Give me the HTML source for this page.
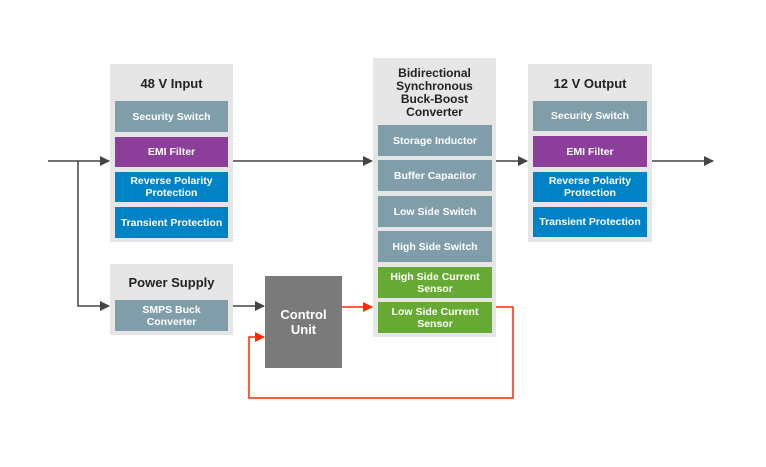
<!DOCTYPE html>
<html><head><style>
body{margin:0;width:766px;height:467px;background:#fff;font-family:"Liberation Sans",Arial,sans-serif;position:relative;overflow:hidden}
.p{position:absolute;background:#e6e6e6}
.t{position:absolute;font-weight:bold;color:#222;font-size:13px;text-align:center;line-height:14px}
.b{position:absolute;color:#fff;font-weight:bold;font-size:10.5px;text-align:center;display:flex;align-items:center;justify-content:center;line-height:12px}
.g{background:#7f9ea9}.m{background:#8b3f9b}.u{background:#0083c6}.n{background:#66aa33}
</style></head><body>
<div class="p" style="left:110px;top:64px;width:123px;height:178px"></div>
<div class="t" style="left:110px;top:77px;width:123px">48 V Input</div>
<div class="b g" style="left:115px;top:101px;width:113px;height:31px">Security Switch</div>
<div class="b m" style="left:115px;top:137px;width:113px;height:30px">EMI Filter</div>
<div class="b u" style="left:115px;top:172px;width:113px;height:30px">Reverse Polarity<br>Protection</div>
<div class="b u" style="left:115px;top:207px;width:113px;height:31px">Transient Protection</div>

<div class="p" style="left:110px;top:264px;width:123px;height:71px"></div>
<div class="t" style="left:110px;top:276px;width:123px">Power Supply</div>
<div class="b g" style="left:115px;top:300px;width:113px;height:31px">SMPS Buck<br>Converter</div>

<div class="b" style="left:265px;top:276px;width:77px;height:92px;background:#7a7a7a;font-size:13px;line-height:15px">Control<br>Unit</div>

<div class="p" style="left:373px;top:58px;width:123px;height:279px"></div>
<div class="t" style="left:373px;top:67px;width:123px;font-size:12px;line-height:13px">Bidirectional<br>Synchronous<br>Buck-Boost<br>Converter</div>
<div class="b g" style="left:378px;top:125px;width:114px;height:31px">Storage Inductor</div>
<div class="b g" style="left:378px;top:160px;width:114px;height:31px">Buffer Capacitor</div>
<div class="b g" style="left:378px;top:196px;width:114px;height:31px">Low Side Switch</div>
<div class="b g" style="left:378px;top:231px;width:114px;height:31px">High Side Switch</div>
<div class="b n" style="left:378px;top:267px;width:114px;height:31px">High Side Current<br>Sensor</div>
<div class="b n" style="left:378px;top:302px;width:114px;height:31px">Low Side Current<br>Sensor</div>

<div class="p" style="left:528px;top:64px;width:124px;height:178px"></div>
<div class="t" style="left:528px;top:77px;width:124px">12 V Output</div>
<div class="b g" style="left:533px;top:101px;width:114px;height:30px">Security Switch</div>
<div class="b m" style="left:533px;top:136px;width:114px;height:31px">EMI Filter</div>
<div class="b u" style="left:533px;top:172px;width:114px;height:30px">Reverse Polarity<br>Protection</div>
<div class="b u" style="left:533px;top:207px;width:114px;height:30px">Transient Protection</div>

<svg width="766" height="467" style="position:absolute;left:0;top:0">
<defs>
<marker id="a" markerWidth="10" markerHeight="10" refX="9" refY="5" orient="auto" markerUnits="userSpaceOnUse"><path d="M0,0L10,5L0,10z" fill="#444"/></marker>
<marker id="r" markerWidth="10" markerHeight="10" refX="9" refY="5" orient="auto" markerUnits="userSpaceOnUse"><path d="M0,0L10,5L0,10z" fill="#ff2a00"/></marker>
</defs>
<g stroke="#444" stroke-width="1.5" fill="none">
<path d="M48,161H109" marker-end="url(#a)"/>
<path d="M78,161V306H109" marker-end="url(#a)"/>
<path d="M233,161H372" marker-end="url(#a)"/>
<path d="M496,161H527" marker-end="url(#a)"/>
<path d="M652,161H713" marker-end="url(#a)"/>
<path d="M233,306H264" marker-end="url(#a)"/>
</g>
<g stroke="#ff2a00" stroke-width="1.5" fill="none">
<path d="M342,307H372" marker-end="url(#r)"/>
<path d="M496,307H513V398H249V337H264" marker-end="url(#r)"/>
</g>
</svg>
</body></html>
